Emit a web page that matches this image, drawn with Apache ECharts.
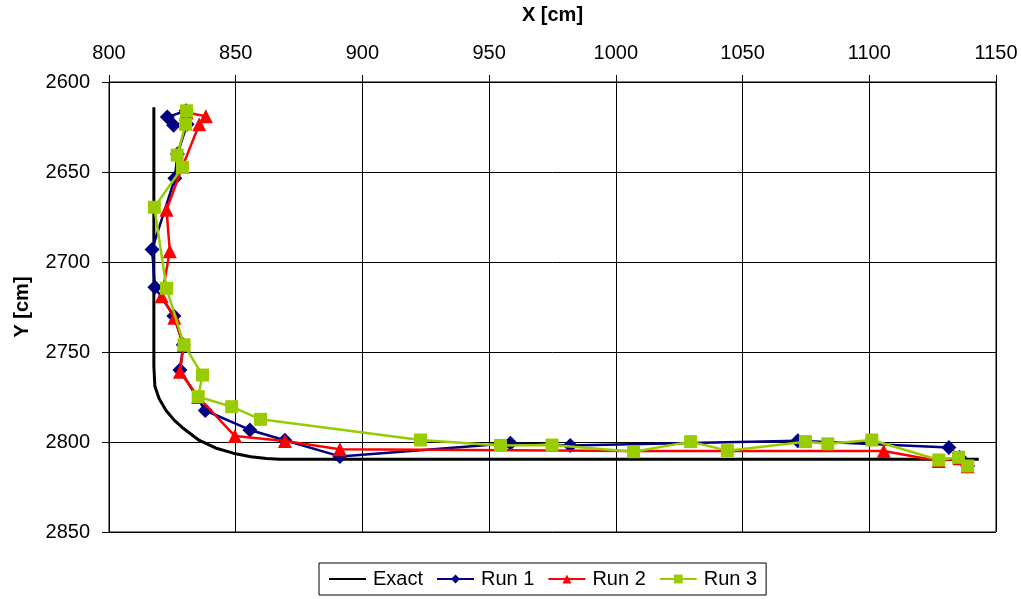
<!DOCTYPE html>
<html><head><meta charset="utf-8">
<script src="https://cdn.jsdelivr.net/npm/echarts@6/dist/echarts.min.js"></script>
<style>html,body{margin:0;padding:0;background:#fff}#c{width:1021px;height:599px}</style>
</head><body><div id="c"></div>
<script>
const xTicks = [800, 850, 900, 950, 1000, 1050, 1100, 1150];
const yTicks = [2600, 2650, 2700, 2750, 2800, 2850];
const seriesNames = ['Exact', 'Run 1', 'Run 2', 'Run 3'];
const exact = [[817.7,2614],[817.7,2758],[818.1,2769],[819.8,2776],[822.5,2782.5],[825.8,2788],[829.3,2792.4],[835.5,2799],[842,2803.3],[849,2806.2],[856,2808.2],[862.2,2809.2],[867.4,2809.6],[1143.2,2809.6]];
const run1 = [[830.4,2616],[823,2619.5],[825.5,2624],[830.8,2623.5],[827,2640],[826,2653.5],[817,2693],[818.1,2714],[825.6,2730],[829.3,2746],[828,2760],[838,2782.5],[855.6,2793.3],[869.4,2799],[891.1,2808],[958.4,2800.7],[982,2802],[1071.8,2799.3],[1131.4,2803],[1135.6,2808.5],[1138.8,2813.3]];
const run2 = [[830.6,2617],[838.2,2619],[835.6,2623.5],[829,2647],[822.7,2671],[824,2694],[820.8,2719],[825.8,2731],[829.5,2746],[828,2761],[835.2,2775],[849.7,2796.7],[869.4,2799.4],[891.1,2804],[1007,2805],[1105.7,2805],[1127.4,2810.5],[1135.6,2809],[1138.8,2813.5]];
const run3 = [[830.6,2616],[830.2,2623.5],[826.9,2640.6],[829,2647.4],[817.9,2669.6],[822.7,2714.6],[829.6,2746],[836.9,2762.8],[835.2,2774.8],[848.4,2780.4],[859.8,2787.4],[922.9,2798.9],[954.5,2801.9],[974.8,2801.7],[1007,2805.4],[1029.5,2799.8],[1044,2804.8],[1074.8,2799.8],[1083.6,2801],[1101,2798.9],[1127.4,2810],[1135.2,2808.5],[1138.8,2813.3]];

const font = 'Liberation Sans, Arial, sans-serif';
const chart = echarts.init(document.getElementById('c'), null, {renderer: 'canvas'});
chart.setOption({
  animation: false,
  backgroundColor: '#fff',
  grid: {left: 109, right: 25, top: 82, bottom: 67, show: true, borderColor: '#000', borderWidth: 1, containLabel: false, outerBoundsMode: 'none'},
  xAxis: {
    type: 'value', position: 'top', min: xTicks[0], max: xTicks[xTicks.length-1], interval: 50,
    name: 'X [cm]', nameLocation: 'middle', nameGap: 57,
    nameTextStyle: {fontFamily: font, fontWeight: 'bold', fontSize: 20, color: '#000'},
    axisLine: {show: true, lineStyle: {color: '#000', width: 1}},
    axisTick: {show: true, length: 7, lineStyle: {color: '#000'}},
    axisLabel: {fontFamily: font, fontSize: 20, color: '#000', margin: 19, formatter: v => String(v)},
    splitLine: {show: true, lineStyle: {color: '#000', width: 1}}
  },
  yAxis: {
    type: 'value', inverse: true, min: yTicks[0], max: yTicks[yTicks.length-1], interval: 50,
    name: 'Y [cm]', nameLocation: 'middle', nameGap: 77, nameRotate: 90,
    nameTextStyle: {fontFamily: font, fontWeight: 'bold', fontSize: 20, color: '#000'},
    axisLine: {show: true, lineStyle: {color: '#000', width: 1}},
    axisTick: {show: true, length: 7, lineStyle: {color: '#000'}},
    axisLabel: {fontFamily: font, fontSize: 20, color: '#000', margin: 19, formatter: v => String(v)},
    splitLine: {show: true, lineStyle: {color: '#000', width: 1}}
  },
  legend: {
    data: [{name: seriesNames[0], itemStyle: {opacity: 0}}, seriesNames[1], seriesNames[2], seriesNames[3]],
    left: 319, top: 563, orient: 'horizontal',
    borderColor: '#000', borderWidth: 1, padding: [6, 9], itemGap: 13, itemWidth: 37, itemHeight: 11,
    textStyle: {fontFamily: font, fontSize: 20, color: '#000', padding: [0, 0, 0, 2]}
  },
  series: [
    {name: seriesNames[0], type: 'line', data: exact, symbol: 'none', lineStyle: {color: '#000', width: 3}, itemStyle: {color: '#000'}, z: 1},
    {name: seriesNames[1], type: 'line', data: run1, symbol: 'diamond', symbolSize: 15, lineStyle: {color: '#000080', width: 2.5}, itemStyle: {color: '#000080'}, z: 2},
    {name: seriesNames[2], type: 'line', data: run2, symbol: 'triangle', symbolSize: 14, lineStyle: {color: '#ff0000', width: 2.5}, itemStyle: {color: '#ff0000'}, z: 3},
    {name: seriesNames[3], type: 'line', data: run3, symbol: 'rect', symbolSize: 13, lineStyle: {color: '#99cc00', width: 2.5}, itemStyle: {color: '#99cc00'}, z: 4}
  ]
});
</script></body></html>
